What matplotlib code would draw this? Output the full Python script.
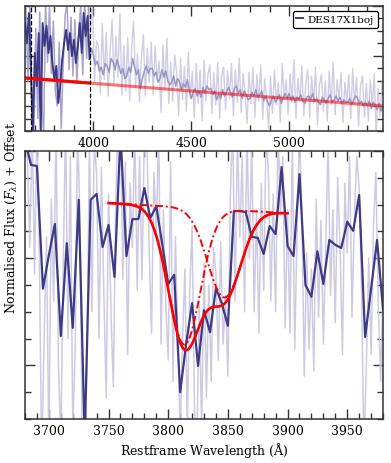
import numpy as np
import matplotlib
matplotlib.use("Agg")
import matplotlib.pyplot as plt
from matplotlib.ticker import MultipleLocator, FixedLocator, NullFormatter

plt.rcParams['font.family'] = ['DejaVu Serif']
plt.rcParams['mathtext.fontset'] = 'dejavuserif'

navy = '#3f3a85'
lav_light = '#c8c5e0'
lav_mid = '#9590c4'

# top panel: full spectrum (10 A steps)
top_wl_start, top_wl_step = 3650, 10
smooth_top = [6.64, 5.04, 7.44, 2.9, -2.16, 4.24, 1.6, 5.84, -2.2, 6.64,
              4.8, 6.4, 4.24, 5.6, 3.44, 2.08, 3.2, 0.24, 1.6, 3.68,
              5.04, 6.08, 4.48, 5.84, 4.0, 5.28, 3.44, 4.8, 6.64, 4.24,
              7.44, 5.6, 7.2, 3.76,
              4.6, 4.0, 3.3, 3.6, 2.8, 3.1, 2.5, 3.4, 3.2, 2.7, 3.8,
              3.5, 2.9, 3.7, 3.2, 2.6, 3.0, 2.2, 2.4, 3.1, 2.7,
              3.8, 3.1, 2.5, 2.9, 1.4, 2.2, 2.8, 3.2, 2.6, 3.0,
              3.0, 2.4, 2.7, 1.9, 2.2, 2.9, 2.3, 2.8, 2.0, 1.7,
              1.9, 2.4, 1.6, 2.2, 1.9, 1.3, 1.8, 1.5, 2.1, 1.2,
              0.6, 1.1, 1.4, 0.8, 1.2, 0.7, 1.5, 1.0, 1.6, 1.3,
              1.4, 0.9, 1.2, 0.5, 1.0, 0.6, 1.3, 0.8, 1.1, 1.5,
              1.1, 0.7, 1.4, 1.6, 1.0, 1.3, 0.6, 1.2, 0.9, 0.5,
              0.6, 1.1, 0.8, 1.3, 0.7, 0.9, 1.2, 0.4, 0.8, 0.3,
              0.0, 0.5, 0.8, 0.3, 0.6, 0.9, 0.2, 0.7, 1.0, 0.6,
              1.0, 0.5, 0.8, 0.3, 0.7, 0.6, 0.9, 0.4, 0.2, 0.7,
              0.8, 0.5, 1.0, 0.4, 0.6, 0.3, 0.1, 0.7, 0.5, 0.2,
              0.6, 0.9, 0.3, 0.5, 0.8, 0.4, 0.7, 0.2, 0.5, 0.3,
              0.3, 0.6, 0.1, 0.5, 0.8, 0.6, 0.2, 0.4, 0.0, 0.3,
              0.0, 0.4, -0.2, 0.3, 0.1, -0.3, 0.2, -0.4, 0.0]

raw_top_start = 3655
raw_top = [7.8, 2.0, 8.4, 0.5, -2.5, 6.2, -1.0, 7.5, 0.8, -2.5,
           8.2, 3.5, 7.9, 2.6, 6.8, 1.2, 0.0, 5.1, -1.8, 3.4,
           7.2, 8.3, 2.9, 7.1, 2.4, 6.9, 1.8, 6.0, 8.1, 2.5,
           8.5, 3.8, 8.0,
           6.3, 8.5, 1.9, 5.2, 4.8, 1.0, 6.6, 2.1, 5.9, 0.8, 4.4, 6.9,
           1.8, 5.6, 2.3, 7.4, 0.9, 4.8, 1.2, 5.5, 0.4, 4.7,
           6.8, 1.5, 4.2, 0.3, 3.9, 5.7, 0.8, 4.6, 1.9, 5.1,
           0.9, 4.8, 2.0, 3.6, -0.5, 4.9, 1.3, 5.4, 0.2, 3.5,
           0.4, 4.1, 2.7, -0.8, 3.8, 0.5, 3.2, -0.4, 4.3, 0.6,
           2.8, -0.9, 3.4, 0.2, 2.9, -1.2, 3.7, 0.4, 2.5, 3.3,
           -0.6, 2.7, 0.1, 3.5, -1.0, 2.4, 3.1, -0.3, 2.8, 0.6,
           3.4, -0.8, 2.9, 0.3, 3.8, -0.5, 2.6, 1.0, -1.4, 2.7,
           0.2, 3.1, -0.9, 2.5, 0.4, 3.3, -1.1, 2.2, 0.6, -1.8,
           2.4, -0.6, 2.9, 0.1, 1.9, -1.3, 3.4, 0.5, 2.1, -0.7,
           2.6, 0.3, 3.7, -1.0, 2.2, 0.4, 3.2, -0.8, 1.8, 2.9,
           -0.9, 2.4, 0.2, 3.1, -1.5, 1.7, 2.5, -0.4, 2.0, -1.2,
           2.8, 0.1, 3.5, -0.7, 2.1, 0.6, 2.7, -1.3, 1.9, 0.3,
           2.5, -1.0, 3.0, 0.2, 2.3, -1.6, 1.6, 2.4, -0.9, 1.8,
           -1.2, 2.1, 0.0, 2.6, -2.4, 1.4, -0.8, 1.9]

cont_wl = [3650, 5480]
cont_top = [2.24, 0.0]

win = [3680, 3980]

# bottom panel: zoom on the feature
raw_bot_start, raw_bot_step = 3680, 2
raw_bot = [4.8, 3.9, 2.2, 4.5, 1.7, 4.6, 2.0, -1.8, 0.5, 2.4,
           -1.6, 3.1, 1.2, 4.6, 0.0, -1.4, 1.8, 4.6, 0.5, 3.9,
           -1.2, 0.3, 4.4, 2.8, -1.5, -1.8, 0.2, 4.3, 1.0, 4.1,
           3.6, 0.5, 3.7, 1.4, -0.6, 3.2, 1.0, -0.4, 3.0, 4.7,
           4.5, 1.6, 3.8, 0.2, 3.4, 2.2, 4.5, 1.4, 3.9, 1.6,
           4.3, 4.4, 2.2, 0.6, 3.6, 2.5, 4.4, 0.4, 2.9, 1.1,
           0.1, 3.8, -0.3, 2.4, 0.6, -1.3, 0.5, 1.8, -1.2, 1.4,
           2.6, -0.8, -1.5, 1.2, -1.2, 1.9, -0.6, 1.5, -0.3, 2.2,
           1.7, 0.1, 2.3, 0.4, 1.3, -0.2, 3.1, 4.6, 1.2, 4.3,
           2.4, 3.9, 1.0, 4.4, 2.0, 4.2, 1.0, 2.9, 0.6, 3.4,
           1.4, 4.3, 3.6, 1.2, 3.2, 1.0, 4.5, 2.8, 3.9, 0.7,
           2.9, 0.6, 4.3, 0.3, 2.5, 4.4, 2.8, -0.2, 2.1, 0.3,
           1.8, -0.1, 3.1, 0.9, 2.7, 0.4, 2.3, 4.2, 1.3, 2.9,
           0.8, 3.5, 2.2, 0.2, 3.4, 2.1, 3.9, 0.9, 2.8, 3.9,
           3.3, 1.4, -1.6, 0.0, 2.0, 0.2, 2.6, 3.6, 1.2, -0.3,
           1.5]

bin_bot_start, bin_bot_step = 3680, 5
bin_bot = [4.22, 3.74, 3.72, 1.43, 2.06, 2.64, 0.55, 2.28, 0.70, 3.09,
           -1.37, 3.09, 3.20, 2.21, 2.62, 1.65, 4.32, 2.04, 2.73, 2.73,
           3.31, 2.75, 2.97, 2.26, 1.52, 1.69, -0.50, 0.40, 1.16, -0.01,
           1.03, 0.62, 1.44, 1.15, 0.74, 2.88, 2.88, 2.86, 2.40, 2.38,
           2.08, 2.60, 2.45, 3.70, 2.23, 2.04, 3.57, 1.50, 1.28, 2.13,
           1.52, 2.34, 2.25, 2.19, 2.68, 2.51, 3.18, 0.53, 1.43, 2.34,
           1.05]

# double gaussian fit on a linear continuum
fit_range = [3750, 3900]
fit_cont = [3.03, 2.84]
g1_centre, g1_depth, g1_sigma = 3813.5, 2.56, 13.5
g2_centre, g2_depth, g2_sigma = 3847.0, 1.64, 14.0

fig = plt.figure(figsize=(3.91, 4.64), dpi=100)
ax1 = fig.add_axes([0.064, 0.7155, 0.9156, 0.2695])
ax2 = fig.add_axes([0.064, 0.0948, 0.9156, 0.5776])

# ---- top panel
wl_top = top_wl_start + top_wl_step * np.arange(len(smooth_top))
wl_raw_top = raw_top_start + top_wl_step * np.arange(len(raw_top))
smooth_top = np.array(smooth_top)
raw_top = np.array(raw_top)

ax1.plot(wl_raw_top, raw_top, color=lav_light, lw=1.0, alpha=0.85)
m_in = wl_raw_top <= win[1]
ax1.plot(wl_raw_top[m_in], raw_top[m_in], color=lav_mid, lw=1.0, alpha=0.7)
m_out = wl_top >= win[1]
ax1.plot(wl_top[m_out], smooth_top[m_out], color=lav_mid, lw=1.1, alpha=0.95)
m_win = wl_top <= win[1]
ax1.plot(wl_top[m_win], smooth_top[m_win], color=navy, lw=1.4, label='DES17X1boj')

ax1.plot(cont_wl, cont_top, color='red', lw=2.2, alpha=0.55)
c_win = np.interp([cont_wl[0], win[1]], cont_wl, cont_top)
ax1.plot([cont_wl[0], win[1]], c_win, color='red', lw=2.2)
for w in win:
    ax1.axvline(w, color='k', ls='--', lw=0.9)

ax1.set_xlim(3650, 5480)
ax1.set_ylim(-2, 8)
ax1.xaxis.set_major_locator(MultipleLocator(500))
ax1.xaxis.set_minor_locator(MultipleLocator(100))
ax1.yaxis.set_major_locator(FixedLocator([0, 4, 8]))
ax1.yaxis.set_minor_locator(MultipleLocator(1))
ax1.yaxis.set_major_formatter(NullFormatter())
leg = ax1.legend(loc='upper right', fontsize=7.5, handlelength=0.6,
                 handletextpad=0.5, borderpad=0.35, fancybox=True,
                 framealpha=1, edgecolor='k')
leg.get_frame().set_linewidth(0.9)

# ---- bottom panel
wl_raw_bot = raw_bot_start + raw_bot_step * np.arange(len(raw_bot))
wl_bin_bot = bin_bot_start + bin_bot_step * np.arange(len(bin_bot))
ax2.plot(wl_raw_bot, raw_bot, color=lav_light, lw=1.1, alpha=0.9)
ax2.plot(wl_bin_bot, bin_bot, color=navy, lw=1.6)

wl_fit = np.linspace(fit_range[0], fit_range[1], 400)
cont = np.interp(wl_fit, fit_range, fit_cont)
g1 = g1_depth * np.exp(-0.5 * ((wl_fit - g1_centre) / g1_sigma) ** 2)
g2 = g2_depth * np.exp(-0.5 * ((wl_fit - g2_centre) / g2_sigma) ** 2)
ax2.plot(wl_fit, cont - g1, color='red', lw=1.4, ls=(0, (4, 1.5, 1, 1.5)))
ax2.plot(wl_fit, cont - g2, color='red', lw=1.4, ls=(0, (4, 1.5, 1, 1.5)))
ax2.plot(wl_fit, cont - g1 - g2, color='red', lw=1.9)

ax2.set_xlim(win[0], win[1])
ax2.set_ylim(-1, 4)
ax2.xaxis.set_major_locator(MultipleLocator(50))
ax2.xaxis.set_minor_locator(MultipleLocator(10))
ax2.yaxis.set_major_locator(FixedLocator([0, 2, 4]))
ax2.yaxis.set_minor_locator(MultipleLocator(0.5))
ax2.yaxis.set_major_formatter(NullFormatter())
ax2.set_xlabel(r'Restframe Wavelength ($\rm\AA$)', fontsize=9, labelpad=2)

for ax in (ax1, ax2):
    ax.tick_params(which='both', direction='in', top=True, right=True,
                   labelsize=9, width=1.0, colors='#333333', labelcolor='k')
    ax.tick_params(which='major', length=7)
    ax.tick_params(which='minor', length=4)
    for s in ax.spines.values():
        s.set_linewidth(1.1)
        s.set_color('#333333')

fig.text(0.03, 0.53, r'Normalised Flux $(F_\lambda)$ + Offset', rotation=90,
         ha='center', va='center', fontsize=9)

fig.savefig('out.png', dpi=100)
